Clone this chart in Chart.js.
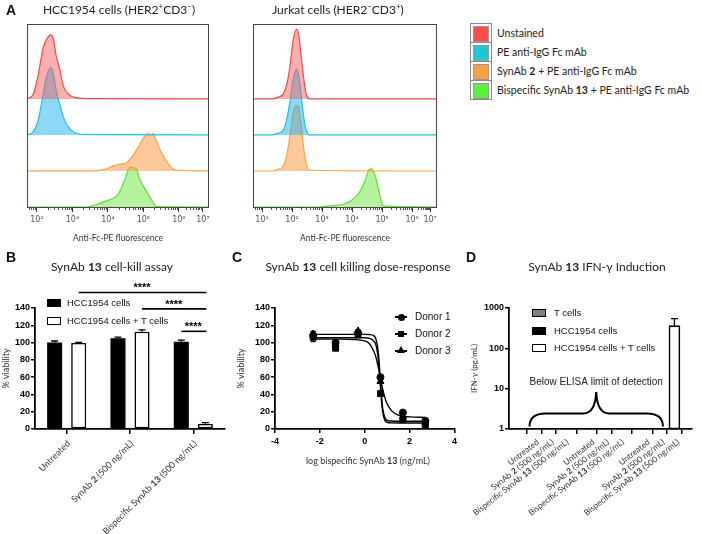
<!DOCTYPE html>
<html>
<head>
<meta charset="utf-8">
<script src="https://cdn.jsdelivr.net/npm/chart.js@4.4.1/dist/chart.umd.min.js"></script>
<style>
  body { margin: 0; background: #fff; }
  #fig { position: relative; width: 702px; height: 534px; overflow: hidden; background: #fff; font-family: Lato, sans-serif; color: #222; }
  canvas { position: absolute; }
  .lbl { position: absolute; font: bold 14px "Liberation Sans", Arial, sans-serif; line-height: 14px; color: #111; }
  .ttl { position: absolute; width: 220px; font-size: 12px; line-height: 14px; text-align: center; white-space: nowrap; color: #222; }
  .ttl sup { font-size: 8px; line-height: 0; vertical-align: 5px; }
  .sw { position: absolute; left: 470px; width: 22px; height: 20px; box-sizing: border-box; border: 1px solid #888; }
  .sw i { position: absolute; left: 2px; top: 2px; width: 14px; height: 14px; border: 1px solid #999; }
  .lt { position: absolute; left: 497px; font-size: 10.5px; line-height: 20px; white-space: nowrap; color: #222; }
  .gl { position: absolute; font: 9.5px "Liberation Sans", Arial, sans-serif; line-height: 12px; white-space: nowrap; color: #111; }
  .rc { position: absolute; width: 14px; height: 8px; box-sizing: border-box; border: 1.5px solid #000; }
  .ax { position: absolute; font-size: 9px; line-height: 12px; text-align: center; white-space: nowrap; color: #333; }
</style>
</head>
<body>
<div id="fig">
  <canvas id="cA1" width="230" height="250" style="left:0;top:0"></canvas>
  <canvas id="cA2" width="230" height="250" style="left:230px;top:0"></canvas>
  <canvas id="cB" width="240" height="264" style="left:0;top:270px"></canvas>
  <canvas id="cC" width="228" height="264" style="left:232px;top:270px"></canvas>
  <canvas id="cD" width="242" height="264" style="left:460px;top:270px"></canvas>

  <div class="lbl" style="left:6px;top:3px">A</div>
  <div class="lbl" style="left:6px;top:250px">B</div>
  <div class="lbl" style="left:232px;top:250px">C</div>
  <div class="lbl" style="left:466px;top:250px">D</div>

  <div class="ttl" style="left:9px;top:3px">HCC1954 cells (HER2<sup>+</sup>CD3<sup>−</sup>)</div>
  <div class="ttl" style="left:228px;top:3px">Jurkat cells (HER2<sup>−</sup>CD3<sup>+</sup>)</div>
  <div class="ttl" style="left:2px;top:260px">SynAb <b>13</b> cell-kill assay</div>
  <div class="ttl" style="left:248px;top:260px">SynAb <b>13</b> cell killing dose-response</div>
  <div class="ttl" style="left:487px;top:260px">SynAb <b>13</b> IFN-γ Induction</div>

  <!-- legend of panel A -->
  <div class="sw" style="top:23px"><i style="background:#ff4d4d"></i></div>
  <div class="sw" style="top:42px"><i style="background:#1cc8d2"></i></div>
  <div class="sw" style="top:61px"><i style="background:#ffa040"></i></div>
  <div class="sw" style="top:80px"><i style="background:#5ef040"></i></div>
  <div class="lt" style="top:23px">Unstained</div>
  <div class="lt" style="top:42px">PE anti-IgG Fc mAb</div>
  <div class="lt" style="top:61px">SynAb <b>2</b> + PE anti-IgG Fc mAb</div>
  <div class="lt" style="top:80px">Bispecific SynAb <b>13</b> + PE anti-IgG Fc mAb</div>

  <!-- legend of panel B -->
  <div class="rc" style="left:47px;top:299px;background:#000"></div>
  <div class="gl" style="left:67px;top:297px">HCC1954 cells</div>
  <div class="rc" style="left:47px;top:317px;background:#fff"></div>
  <div class="gl" style="left:67px;top:315px">HCC1954 cells + T cells</div>

  <!-- legend of panel C -->
  <div style="position:absolute;left:395px;top:316px;width:12px;height:1.5px;background:#000"></div>
  <div style="position:absolute;left:397.5px;top:313.5px;width:7px;height:7px;border-radius:50%;background:#000"></div>
  <div class="gl" style="left:415px;top:311px;font-size:10px">Donor 1</div>
  <div style="position:absolute;left:395px;top:333px;width:12px;height:1.5px;background:#000"></div>
  <div style="position:absolute;left:398px;top:331px;width:6px;height:6px;background:#000"></div>
  <div class="gl" style="left:415px;top:328px;font-size:10px">Donor 2</div>
  <div style="position:absolute;left:395px;top:350px;width:12px;height:1.5px;background:#000"></div>
  <div style="position:absolute;left:397px;top:346px;width:0;height:0;border-left:4px solid transparent;border-right:4px solid transparent;border-bottom:7px solid #000"></div>
  <div class="gl" style="left:415px;top:345px;font-size:10px">Donor 3</div>
  <div class="ax" style="left:268px;top:455px;width:200px">log bispecific SynAb <b>13</b> (ng/mL)</div>

  <!-- legend of panel D -->
  <div class="rc" style="left:532px;top:309px;background:#808080"></div>
  <div class="gl" style="left:554px;top:307px">T cells</div>
  <div class="rc" style="left:532px;top:327px;background:#000"></div>
  <div class="gl" style="left:554px;top:325px">HCC1954 cells</div>
  <div class="rc" style="left:532px;top:344px;background:#fff"></div>
  <div class="gl" style="left:554px;top:342px">HCC1954 cells + T cells</div>
</div>

<script>
// ---------- A: flow cytometry histograms (x = log10 fluorescence as displayed, y = relative count) ----------
const hccTicks = [2, 3, 4, 5, 6, 6.68];
const hccTickLabels = ['10²', '10³', '10⁴', '10⁵', '10⁶', '10⁷'];
const jurkatTicks = [1, 2, 3, 4, 5, 6, 6.6];
const jurkatTickLabels = ['10¹', '10²', '10³', '10⁴', '10⁵', '10⁶', '10⁷'];

const hccUnstainedX = [1.72, 1.9, 2.04, 2.18, 2.32, 2.39, 2.46, 2.55, 2.65, 2.74, 2.88, 3.12, 3.5, 6.85];
const hccUnstainedY = [0, 14, 69, 144, 173, 178, 167, 116, 79, 37, 14, 3, 1, 0];
const hccPeX = [1.72, 1.9, 2.04, 2.18, 2.27, 2.39, 2.46, 2.55, 2.65, 2.74, 2.88, 3.07, 3.4, 6.85];
const hccPeY = [0, 9, 42, 116, 162, 188, 171, 120, 83, 51, 23, 6, 1, 0];
const hccSyn2X = [1.72, 3.68, 3.96, 4.15, 4.34, 4.53, 4.62, 4.76, 4.9, 5.04, 5.14, 5.2, 5.26, 5.37, 5.51, 5.65, 5.79, 5.94, 6.85];
const hccSyn2Y = [0, 1, 6, 14, 19, 23, 32, 51, 74, 97, 105, 99, 104, 83, 51, 28, 9, 2, 0];
const hccSyn13X = [1.72, 3.4, 3.68, 3.96, 4.25, 4.34, 4.48, 4.62, 4.71, 4.81, 4.88, 5.0, 5.14, 5.28, 5.37, 6.85];
const hccSyn13Y = [0, 0, 7, 17, 31, 44, 77, 111, 109, 105, 81, 58, 35, 12, 1, 0];

const jurkatX = [0.7, 1.32, 1.54, 1.71, 1.82, 1.93, 2.04, 2.16, 2.23, 2.32, 2.41, 2.49, 2.6, 6.83];
const jurkatUnstainedY = [0, 0, 5, 14, 39, 90, 164, 194, 173, 108, 44, 8, 0, 0];
const jurkatPeY = [0, 0, 5, 14, 42, 92, 157, 183, 162, 97, 37, 9, 0, 0];
const jurkatSyn2Y = [0, 0, 5, 14, 42, 97, 162, 182, 173, 116, 51, 14, 2, 0];
const jurkatSyn13X = [0.7, 2.88, 3.21, 3.66, 3.88, 4.1, 4.27, 4.43, 4.57, 4.63, 4.71, 4.82, 4.93, 5.04, 6.83];
const jurkatSyn13Y = [0, 0, 3, 7, 14, 26, 44, 72, 105, 106, 100, 72, 31, 3, 0];

// ---------- B: cell-kill assay ----------
const bCategories = ['Untreated', 'SynAb **2** (500 ng/mL)', 'Bispecific SynAb **13** (500 ng/mL)'];
const bHcc = [100, 105, 101];
const bHccErr = [1.8, 1.2, 1.8];
const bHccT = [99.5, 112.5, 6];
const bHccTErr = [0.8, 2.2, 1.4];
// significance brackets: [dataset, bar] -> [dataset, bar], height in % viability
const bSig = [
  { from: [1, 0], to: [1, 2], level: 158, text: '****' },
  { from: [1, 1], to: [1, 2], level: 139, text: '****' },
  { from: [0, 2], to: [1, 2], level: 113, text: '****' }
];

// ---------- C: dose-response ----------
const cLogDose = [-2.3, -1.3, -0.3, 0.7, 1.7, 2.7];
const cDonor1 = [108, 100, 111, 60, 19, 9.5];
const cDonor2 = [106, 93.5, 109, 41, 11, 4.5];
const cDonor3 = [110, 99, 113.5, 55, 14, 7];
const cErr1 = [4, 1, 1, 2, 1.5, 1];
const cErr2 = [5, 1, 1, 2, 1, 1];
const cErr3 = [3, 1, 1.5, 2, 1, 1];
const cFitX = [-2.3, -1, 0, 0.2, 0.4, 0.5, 0.6, 0.65, 0.7, 0.75, 0.8, 0.9, 1.0, 1.2, 1.5, 2.0, 2.7];
const cFit1 = [104, 104, 102, 99, 90, 83, 72, 66, 59, 52, 46, 36, 29, 21, 16, 14, 13.5];
const cFit2 = [105.5, 105.5, 105.5, 105, 102, 97, 82, 66, 48, 32, 20, 10, 7.8, 7.1, 7, 7, 7];
const cFit3 = [109.5, 109.5, 109.5, 109.3, 108, 104, 90, 74, 55, 38, 24, 13, 10, 9.2, 9, 9, 9];

// ---------- D: IFN-gamma ----------
const dTreatments = ['Untreated', 'SynAb **2** (500 ng/mL)', 'Bispecific SynAb **13** (500 ng/mL)'];
const dGroups = ['T cells', 'HCC1954 cells', 'HCC1954 cells + T cells'];
const dTcells = [null, null, null];
const dHcc = [null, null, null];
const dHccT = [null, null, 365];
const dHccTErr = [null, null, 180];
const dYTicks = [1, 10, 100, 1000];

// ---------- helpers ----------
Chart.defaults.animation = false;
Chart.defaults.responsive = false;
Chart.defaults.plugins.legend.display = false;
Chart.defaults.plugins.tooltip.enabled = false;

const arial = 'Liberation Sans';
const pts = (xs, ys) => xs.map((x, i) => ({ x: x, y: ys[i] }));

// draws a label with **bold** parts, rotated, right end at (x, y)
function drawRich(ctx, text, x, y, angle, size) {
  const parts = text.split('**');
  ctx.save();
  ctx.translate(x, y);
  ctx.rotate(-angle * Math.PI / 180);
  ctx.textBaseline = 'middle';
  ctx.fillStyle = '#333';
  const widths = parts.map((p, k) => {
    ctx.font = (k % 2 ? 'bold ' : '') + size + 'px Lato';
    return ctx.measureText(p).width;
  });
  let cx = -widths.reduce((a, b) => a + b, 0);
  parts.forEach((p, k) => {
    ctx.font = (k % 2 ? 'bold ' : '') + size + 'px Lato';
    ctx.fillText(p, cx, 0);
    cx += widths[k];
  });
  ctx.restore();
}

function richLabels(labels, positions, dx, dy, angle, size) {
  return {
    id: 'richLabels',
    afterDraw(chart) {
      const xs = chart.scales.x;
      labels.forEach((t, i) => {
        const px = positions ? xs.getPixelForValue(positions[i]) : xs.getPixelForTick(i);
        drawRich(chart.ctx, t, px + dx, chart.chartArea.bottom + dy, angle, size);
      });
    }
  };
}

function errorBars(cap, both) {
  return {
    id: 'errorBars',
    afterDatasetsDraw(chart) {
      const ctx = chart.ctx, y = chart.scales.y;
      chart.data.datasets.forEach((ds, di) => {
        if (!ds.errors) return;
        chart.getDatasetMeta(di).data.forEach((el, i) => {
          const raw = ds.data[i];
          const v = raw !== null && typeof raw === 'object' ? raw.y : raw;
          const e = ds.errors[i];
          if (v == null || !e) return;
          const top = y.getPixelForValue(v + e);
          const bot = both ? y.getPixelForValue(v - e) : y.getPixelForValue(v);
          ctx.save();
          ctx.strokeStyle = '#000';
          ctx.lineWidth = 1.3;
          ctx.beginPath();
          ctx.moveTo(el.x, bot); ctx.lineTo(el.x, top);
          ctx.moveTo(el.x - cap, top); ctx.lineTo(el.x + cap, top);
          if (both) { ctx.moveTo(el.x - cap, bot); ctx.lineTo(el.x + cap, bot); }
          ctx.stroke();
          ctx.restore();
        });
      });
    }
  };
}

// ---------- A charts ----------
function histChart(id, curves, ticks, labels, min, max, padL, padR, topScale) {
  const boxPlugin = {
    id: 'box',
    afterDraw(chart) {
      const { ctx, chartArea: a } = chart;
      const xs = chart.scales.x;
      ctx.save();
      ctx.strokeStyle = '#444';
      ctx.lineWidth = 1;
      ctx.strokeRect(a.left + 0.5, a.top + 0.5, a.right - a.left - 1, a.bottom - a.top);
      // minor log ticks
      ctx.strokeStyle = '#555';
      ctx.beginPath();
      for (let n = 0; n < 7; n++) {
        for (let k = 2; k < 10; k++) {
          const lv = n + Math.log10(k);
          const pos = lv <= 6 ? lv : 6 + (lv - 6) * topScale;
          if (pos < min || pos > max) continue;
          const px = Math.round(xs.getPixelForValue(pos)) + 0.5;
          ctx.moveTo(px, a.bottom); ctx.lineTo(px, a.bottom + 3);
        }
      }
      ctx.stroke();
      ctx.restore();
    }
  };
  new Chart(document.getElementById(id), {
    type: 'line',
    data: {
      datasets: curves.map(c => ({
        data: c.x.map((x, i) => ({ x: x, y: c.row * 100 + c.y[i] })),
        borderColor: c.line,
        backgroundColor: c.fill,
        borderWidth: 1.2,
        pointRadius: 0,
        cubicInterpolationMode: 'monotone',
        fill: { value: c.row * 100 }
      }))
    },
    options: {
      layout: { padding: { left: padL, right: padR, top: 24, bottom: 7 } },
      scales: {
        x: {
          type: 'linear', min: min, max: max,
          afterBuildTicks: s => { s.ticks = ticks.map(v => ({ value: v })); },
          afterFit: s => { s.height = 36; },
          ticks: { callback: (v, i) => labels[i], autoSkip: false, maxRotation: 0, padding: 3,
                   font: { family: 'DejaVu Sans', size: 8 }, color: '#555' },
          grid: { drawOnChartArea: false, tickLength: 5, color: '#333' },
          border: { display: false },
          title: { display: true, text: 'Anti-Fc-PE fluorescence', padding: 0,
                   font: { family: 'Lato', size: 8.5 }, color: '#333' }
        },
        y: { display: false, min: 0, max: 508 }
      }
    },
    plugins: [boxPlugin]
  });
}

const red = { line: '#ff4545', fill: 'rgba(246,90,90,0.48)' };
const blue = { line: '#1fc0f0', fill: 'rgba(30,178,240,0.5)' };
const orange = { line: '#ffa048', fill: 'rgba(255,150,60,0.52)' };
const green = { line: '#5fe030', fill: 'rgba(110,230,60,0.5)' };

histChart('cA1', [
  Object.assign({ x: hccUnstainedX, y: hccUnstainedY, row: 3 }, red),
  Object.assign({ x: hccPeX, y: hccPeY, row: 2 }, blue),
  Object.assign({ x: hccSyn2X, y: hccSyn2Y, row: 1 }, orange),
  Object.assign({ x: hccSyn13X, y: hccSyn13Y, row: 0 }, green)
], hccTicks, hccTickLabels, 1.72, 6.85, 27, 21, 0.68);

histChart('cA2', [
  Object.assign({ x: jurkatX, y: jurkatUnstainedY, row: 3 }, red),
  Object.assign({ x: jurkatX, y: jurkatPeY, row: 2 }, blue),
  Object.assign({ x: jurkatX, y: jurkatSyn2Y, row: 1 }, orange),
  Object.assign({ x: jurkatSyn13X, y: jurkatSyn13Y, row: 0 }, green)
], jurkatTicks, jurkatTickLabels, 0.7, 6.83, 23, 23, 0.6);

// ---------- B chart ----------
const sigPlugin = {
  id: 'sig',
  afterDraw(chart) {
    const ctx = chart.ctx, y = chart.scales.y;
    ctx.save();
    ctx.strokeStyle = '#000';
    ctx.fillStyle = '#000';
    ctx.lineWidth = 1.6;
    ctx.font = 'bold 11px ' + arial;
    ctx.textAlign = 'center';
    bSig.forEach(s => {
      const x1 = chart.getDatasetMeta(s.from[0]).data[s.from[1]].x;
      const x2 = chart.getDatasetMeta(s.to[0]).data[s.to[1]].x;
      const py = y.getPixelForValue(s.level);
      ctx.beginPath(); ctx.moveTo(x1, py); ctx.lineTo(x2 + 1, py); ctx.stroke();
      ctx.fillText(s.text, (x1 + x2) / 2, py - 1);
    });
    ctx.restore();
  }
};

new Chart(document.getElementById('cB'), {
  type: 'bar',
  data: {
    labels: bCategories,
    datasets: [
      { label: 'HCC1954 cells', data: bHcc, errors: bHccErr, backgroundColor: '#000', borderWidth: 0 },
      { label: 'HCC1954 cells + T cells', data: bHccT, errors: bHccTErr, backgroundColor: '#fff',
        borderColor: '#000', borderWidth: 1.6, borderSkipped: false }
    ]
  },
  options: {
    datasets: { bar: { categoryPercentage: 0.76, barPercentage: 0.625 } },
    layout: { padding: { left: 1, right: 15, top: 38, bottom: 5 } },
    scales: {
      x: {
        afterFit: s => { s.height = 100; },
        ticks: { display: false },
        grid: { offset: false, drawOnChartArea: false, tickLength: 5, lineWidth: 1.5, color: '#000' },
        border: { color: '#000', width: 1.8 }
      },
      y: {
        min: 0, max: 140,
        afterFit: s => { s.width = 34; },
        ticks: { stepSize: 20, padding: 1, color: '#000', font: { family: arial, size: 9, weight: 'bold' } },
        grid: { drawOnChartArea: false, tickLength: 4, lineWidth: 1.5, color: '#000' },
        border: { color: '#000', width: 1.8 },
        title: { display: true, text: '% viability', padding: 0, color: '#333', font: { family: 'Lato', size: 9 } }
      }
    }
  },
  plugins: [errorBars(3.5, false), sigPlugin, richLabels(bCategories, null, 2, 13, 45, 9)]
});

// ---------- C chart ----------
const marker = { pointRadius: 3.5, pointBackgroundColor: '#000', pointBorderColor: '#000', showLine: false };
const fitLine = { borderColor: '#000', borderWidth: 1.4, pointRadius: 0, cubicInterpolationMode: 'monotone', fill: false };

new Chart(document.getElementById('cC'), {
  type: 'line',
  data: {
    datasets: [
      Object.assign({ label: 'Donor 1', data: pts(cLogDose, cDonor1), errors: cErr1, pointStyle: 'circle' }, marker),
      Object.assign({ label: 'Donor 2', data: pts(cLogDose, cDonor2), errors: cErr2, pointStyle: 'rect' }, marker, { pointRadius: 4.2 }),
      Object.assign({ label: 'Donor 3', data: pts(cLogDose, cDonor3), errors: cErr3, pointStyle: 'triangle' }, marker, { pointRadius: 4 }),
      Object.assign({ data: pts(cFitX, cFit1) }, fitLine),
      Object.assign({ data: pts(cFitX, cFit2) }, fitLine),
      Object.assign({ data: pts(cFitX, cFit3) }, fitLine)
    ]
  },
  options: {
    layout: { padding: { left: 4, right: 3, top: 38, bottom: 5 } },
    scales: {
      x: {
        type: 'linear', min: -4, max: 4,
        afterFit: s => { s.height = 100; },
        ticks: { stepSize: 2, padding: 3, color: '#000', font: { family: arial, size: 9, weight: 'bold' } },
        grid: { drawOnChartArea: false, tickLength: 4, lineWidth: 1.5, color: '#000' },
        border: { color: '#000', width: 1.8 }
      },
      y: {
        min: 0, max: 140,
        afterFit: s => { s.width = 39; },
        ticks: { stepSize: 20, padding: 1, color: '#000', font: { family: arial, size: 9, weight: 'bold' } },
        grid: { drawOnChartArea: false, tickLength: 4, lineWidth: 1.5, color: '#000' },
        border: { color: '#000', width: 1.8 },
        title: { display: true, text: '% viability', padding: 0, color: '#333', font: { family: 'Lato', size: 9 } }
      }
    }
  },
  plugins: [errorBars(2.5, true)]
});

// ---------- D chart ----------
// bar position: three groups of three, with a gap between groups
const groupStep = 3.75;
const barPos = (g, i) => g * groupStep + i;
const dPositions = [];
const dLabels = [];
dGroups.forEach((g, gi) => dTreatments.forEach((t, i) => { dPositions.push(barPos(gi, i)); dLabels.push(t); }));

const bracePlugin = {
  id: 'brace',
  afterDraw(chart) {
    const { ctx, chartArea: a } = chart;
    const xs = chart.scales.x;
    const x1 = xs.getPixelForValue(-0.3), x2 = xs.getPixelForValue(8.72);
    const xc = (x1 + x2) / 2;
    const yb = a.bottom - 2.5, yf = a.bottom - 15.5, yt = a.bottom - 37;
    ctx.save();
    ctx.strokeStyle = '#000';
    ctx.lineWidth = 2;
    ctx.beginPath();
    ctx.moveTo(x1, yb);
    ctx.quadraticCurveTo(x1, yf, x1 + 16, yf);
    ctx.lineTo(xc - 13, yf);
    ctx.quadraticCurveTo(xc - 1, yf, xc, yt);
    ctx.quadraticCurveTo(xc + 1, yf, xc + 13, yf);
    ctx.lineTo(x2 - 16, yf);
    ctx.quadraticCurveTo(x2, yf, x2, yb);
    ctx.stroke();
    ctx.fillStyle = '#222';
    ctx.font = '10px ' + arial;
    ctx.textAlign = 'center';
    ctx.textBaseline = 'middle';
    ctx.fillText('Below ELISA limit of detection', xc, a.bottom - 47);
    ctx.restore();
  }
};

new Chart(document.getElementById('cD'), {
  type: 'bar',
  data: {
    datasets: [
      { label: dGroups[0], data: dTcells.map((v, i) => ({ x: barPos(0, i), y: v })), backgroundColor: '#808080', borderColor: '#000', borderWidth: 1.5 },
      { label: dGroups[1], data: dHcc.map((v, i) => ({ x: barPos(1, i), y: v })), backgroundColor: '#000' },
      { label: dGroups[2], data: dHccT.map((v, i) => ({ x: barPos(2, i), y: v })), errors: dHccTErr,
        backgroundColor: '#fff', borderColor: '#000', borderWidth: 1.6, borderSkipped: false }
    ]
  },
  options: {
    datasets: { bar: { grouped: false, barThickness: 11 } },
    layout: { padding: { left: 10, right: 10, top: 38, bottom: 5 } },
    scales: {
      x: {
        type: 'linear', min: -1, max: 10,
        afterBuildTicks: s => { s.ticks = dPositions.map(v => ({ value: v })); },
        afterFit: s => { s.height = 100; },
        ticks: { display: false },
        grid: { drawOnChartArea: false, tickLength: 5, lineWidth: 1.5, color: '#000' },
        border: { color: '#000', width: 1.8 }
      },
      y: {
        type: 'logarithmic', min: 1, max: 1000,
        afterBuildTicks: s => { s.ticks = dYTicks.map(v => ({ value: v })); },
        afterFit: s => { s.width = 39; },
        ticks: { callback: v => String(v), padding: 1, color: '#000', font: { family: arial, size: 9, weight: 'bold' } },
        grid: { drawOnChartArea: false, tickLength: 4, lineWidth: 1.5, color: '#000' },
        border: { color: '#000', width: 1.8 },
        title: { display: true, text: 'IFN-γ (pg/mL)', padding: 0, color: '#333', font: { family: 'Lato', size: 8 } }
      }
    }
  },
  plugins: [errorBars(3.5, false), bracePlugin, richLabels(dLabels, dPositions, 4, 12, 38, 8.3)]
});
</script>
</body>
</html>
